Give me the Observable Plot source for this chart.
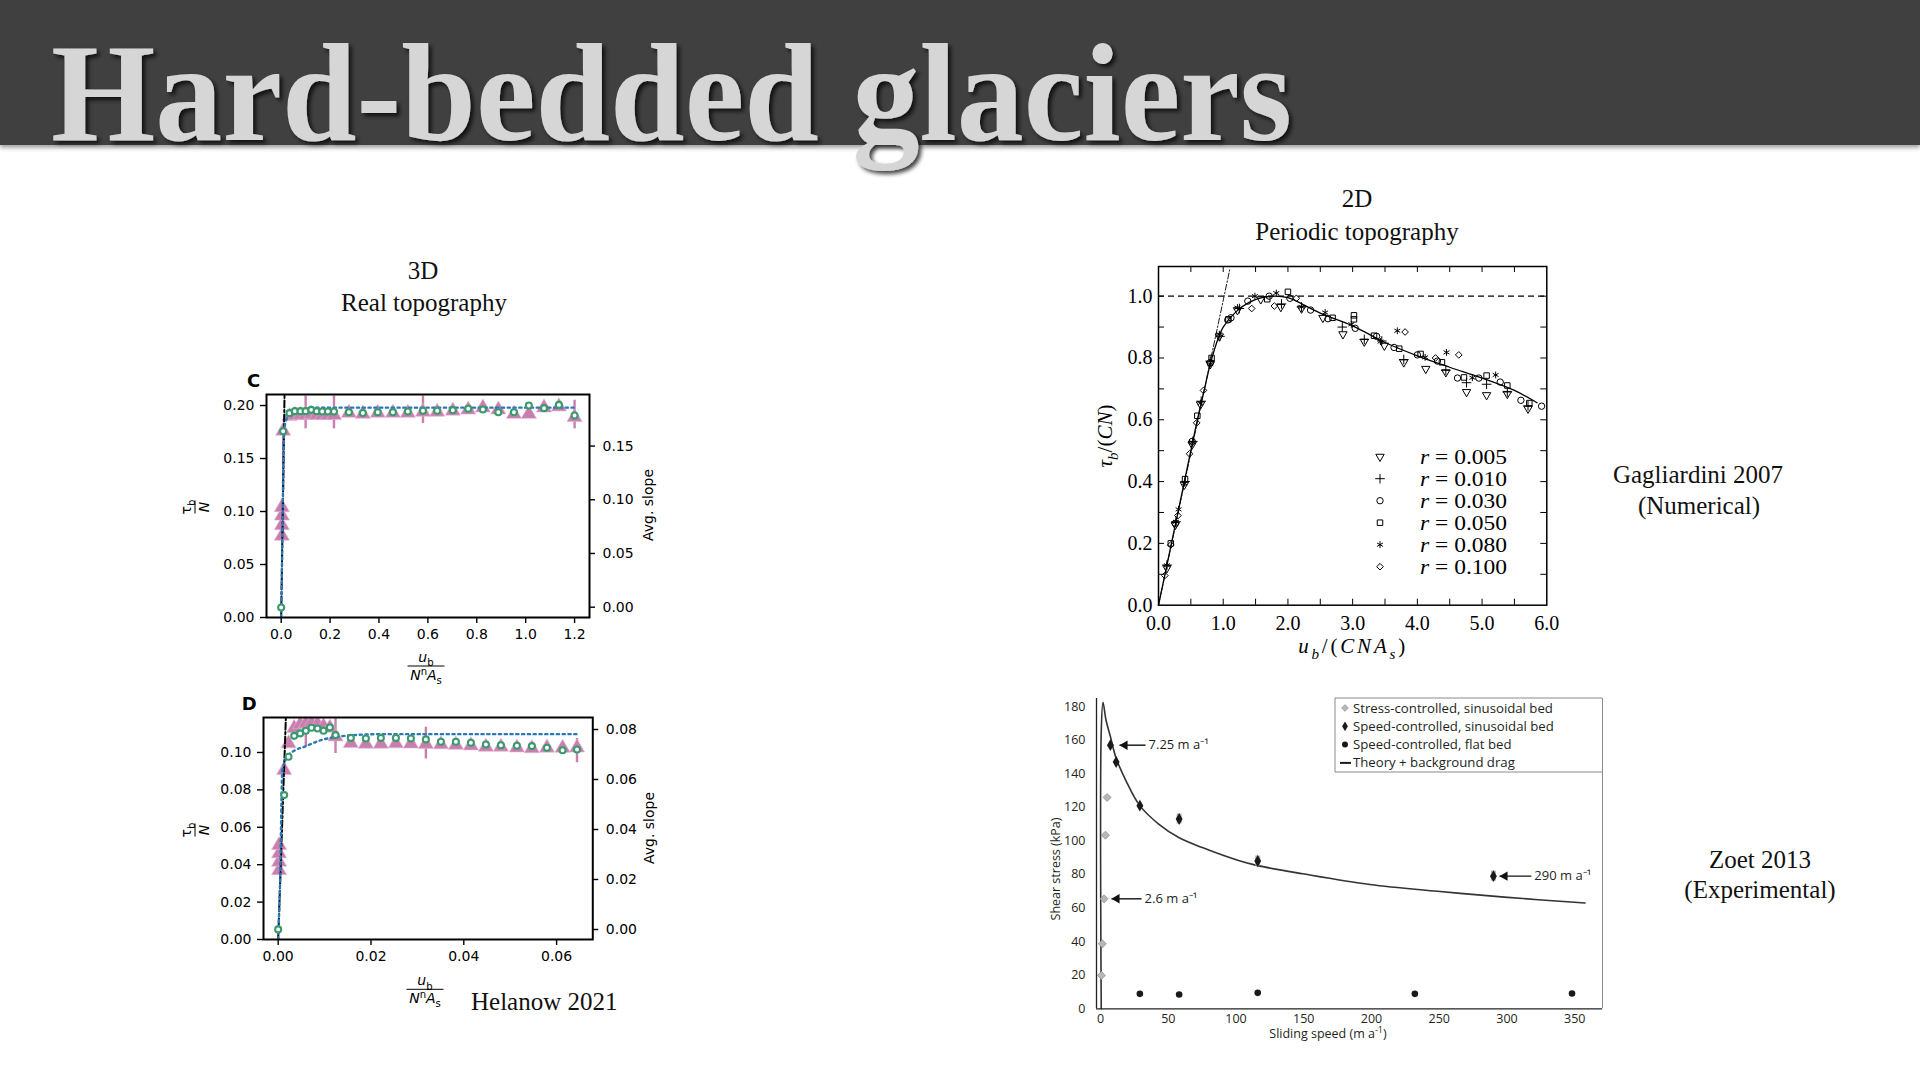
<!DOCTYPE html>
<html><head><meta charset="utf-8">
<script src="https://cdn.jsdelivr.net/npm/d3@7"></script>
<script src="https://cdn.jsdelivr.net/npm/@observablehq/plot@0.6"></script>
<style>
html,body{margin:0;padding:0;background:#fff;}
#slide{position:relative;width:1920px;height:1080px;overflow:hidden;background:#fff;}
#bar{position:absolute;left:0;top:0;width:1920px;height:145px;background:#404040;box-shadow:0 3px 4px rgba(0,0,0,0.35);}
.pw{position:absolute;}
.pw svg{max-width:none;background:transparent;}
</style>
</head><body>
<div id="slide"><div id="bar"></div></div>
<script>
// ================= DATA =================
// --- Helanow 2021, panel C ---
const cCircleX = [0.000,0.008,0.034,0.056,0.079,0.100,0.123,0.145,0.168,0.191,0.216,0.277,0.334,0.395,0.457,0.518,0.580,0.638,0.702,0.765,0.825,0.888,0.952,1.013,1.075,1.136,1.200];
const cCircleY = [0.0094,0.1757,0.1928,0.1947,0.1947,0.1947,0.1959,0.1947,0.1943,0.1943,0.1943,0.1937,0.1930,0.1937,0.1937,0.1943,0.1950,0.1950,0.1956,0.1969,0.1962,0.1937,0.1937,0.2000,0.1975,0.2006,0.1906];
const cTriX = [0.003,0.003,0.003,0.003,0.008,0.034,0.056,0.079,0.100,0.123,0.145,0.168,0.191,0.216,0.277,0.334,0.395,0.457,0.518,0.580,0.638,0.702,0.765,0.825,0.888,0.952,1.013,1.075,1.136,1.200];
const cTriY = [0.077,0.087,0.096,0.104,0.176,0.190,0.191,0.191,0.191,0.192,0.191,0.191,0.191,0.191,0.193,0.192,0.193,0.193,0.193,0.194,0.194,0.195,0.196,0.198,0.196,0.192,0.192,0.198,0.199,0.189];
const cErrX = [0.008,0.100,0.216,0.580,1.200];
const cErrLo = [0.120,0.178,0.178,0.183,0.178];
const cErrHi = [0.176,0.209,0.209,0.209,0.205];
const cSlopeX = [0,0.004,0.008,0.012,0.020,0.040,0.080,0.150,1.200];
const cSlopeY = [0,0.060,0.130,0.175,0.186,0.192,0.196,0.198,0.198];
const cLinX = [0,0.0137];
const cLinY = [0,0.2100];
const cXTicks = [0,0.2,0.4,0.6,0.8,1.0,1.2];
const cYTicks = [0,0.05,0.10,0.15,0.20];
const cRTicks = [0,0.05,0.10,0.15];

// --- Helanow 2021, panel D ---
const dCircleX = [0,0.00129,0.00223,0.00345,0.00474,0.00596,0.00719,0.00848,0.00977,0.01114,0.01236,0.01566,0.0189,0.02213,0.02537,0.0286,0.03183,0.03507,0.0383,0.04153,0.04477,0.048,0.05145,0.05468,0.05792,0.06129,0.0644];
const dCircleY = [0.0054,0.0772,0.0977,0.1089,0.1102,0.1116,0.1132,0.1128,0.1116,0.1134,0.1093,0.1078,0.1075,0.1078,0.1078,0.1075,0.1070,0.1057,0.1057,0.1052,0.1043,0.1039,0.1036,0.1034,0.1025,0.1012,0.1016];
const dTriX = [0.0002,0.0002,0.0002,0.0002,0.00129,0.00223,0.00345,0.00474,0.00596,0.00719,0.00848,0.00977,0.01114,0.01236,0.01566,0.0189,0.02213,0.02537,0.0286,0.03183,0.03507,0.0383,0.04153,0.04477,0.048,0.05145,0.05468,0.05792,0.06129,0.0644];
const dTriY = [0.0370,0.0415,0.0460,0.0504,0.0906,0.1048,0.1130,0.1150,0.1155,0.1158,0.1152,0.1140,0.1132,0.1085,0.1050,0.1046,0.1046,0.1048,0.1047,0.1045,0.1043,0.1040,0.1037,0.1030,0.1030,0.1026,0.1022,0.1025,0.1024,0.1026];
const dErrX = [0.00596,0.01236,0.03183,0.0644];
const dErrLo = [0.1030,0.0995,0.0965,0.0945];
const dErrHi = [0.1165,0.1185,0.1135,0.1075];
const dSlopeX = [0,0.0004,0.0009,0.0020,0.0035,0.0056,0.0092,0.0128,0.0164,0.0220,0.0644];
const dSlopeY = [0,0.030,0.0906,0.0977,0.1010,0.1030,0.1066,0.1084,0.1093,0.1098,0.1098];
const dLinX = [0,0.00165];
const dLinY = [0,0.1180];
const dXTicks = [0,0.02,0.04,0.06];
const dYTicks = [0,0.02,0.04,0.06,0.08,0.10];
const dRTicks = [0,0.02,0.04,0.06,0.08];

// --- Gagliardini 2007 ---
const gR005 = [[0.13,0.12],[0.26,0.26],[0.40,0.39],[0.52,0.52],[0.65,0.65],[0.80,0.78],[0.94,0.87],[1.22,0.955],[1.58,0.99],[1.89,0.965],[2.21,0.96],[2.54,0.93],[2.85,0.877],[3.18,0.853],[3.49,0.84],[3.79,0.786],[4.13,0.765],[4.44,0.754],[4.76,0.69],[5.07,0.68],[5.39,0.684],[5.71,0.636]];
const gR010 = [[0.13,0.13],[0.27,0.27],[0.41,0.40],[0.53,0.53],[0.66,0.66],[0.80,0.79],[0.95,0.87],[1.25,0.96],[1.90,0.975],[2.21,0.965],[2.84,0.90],[3.18,0.86],[3.45,0.855],[3.79,0.795],[4.44,0.76],[4.76,0.72],[5.07,0.715],[5.39,0.69],[5.71,0.645]];
const gR030 = [[0.26,0.265],[0.52,0.53],[0.80,0.785],[1.07,0.923],[1.12,0.93],[1.38,0.984],[1.71,1.0],[2.03,0.993],[2.35,0.955],[2.62,0.927],[3.04,0.896],[3.37,0.87],[3.64,0.834],[4.00,0.81],[4.31,0.79],[4.62,0.735],[4.95,0.735],[5.28,0.722],[5.60,0.663],[5.92,0.644]];
const gR050 = [[0.19,0.20],[0.41,0.408],[0.60,0.613],[0.82,0.80],[1.08,0.925],[1.68,0.99],[2.00,1.014],[2.69,0.93],[3.02,0.938],[3.02,0.925],[3.33,0.872],[3.72,0.83],[4.05,0.813],[4.38,0.786],[4.72,0.737],[5.07,0.743],[5.39,0.711],[5.73,0.654]];
const gR080 = [[0.13,0.129],[0.27,0.27],[0.31,0.31],[0.40,0.395],[0.525,0.527],[0.65,0.654],[0.80,0.78],[0.94,0.877],[1.22,0.963],[1.49,1.0],[1.82,1.01],[2.21,0.965],[2.575,0.947],[2.98,0.909],[3.43,0.853],[3.69,0.888],[4.12,0.802],[4.45,0.818],[4.85,0.736],[5.21,0.745]];
const gR100 = [[0.098,0.096],[0.19,0.195],[0.30,0.29],[0.48,0.49],[0.59,0.59],[0.695,0.695],[1.44,0.96],[1.79,0.968],[2.13,0.993],[3.81,0.884],[4.28,0.80],[4.64,0.81]];
const gLegendLabels = ["0.005","0.010","0.030","0.050","0.080","0.100"];
const gCurveX = [0,0.2,0.4,0.6,0.7,0.8,0.9,1.0,1.2,1.4,1.6,1.8,2.0,2.5,3.0,3.5,4.0,4.5,5.0,5.5,5.85];
const gCurveY = [0,0.2,0.4,0.6,0.69,0.78,0.85,0.9,0.95,0.98,0.995,1.0,0.995,0.945,0.904,0.85,0.807,0.77,0.735,0.695,0.655];
const gLinX = [0,1.1];
const gLinY = [0,1.085];
const gXTicks = [0,1,2,3,4,5,6];
const gXMinor = [0.5,1,1.5,2,2.5,3,3.5,4,4.5,5,5.5];
const gYTicks = [0,0.2,0.4,0.6,0.8,1.0];
const gYMinor = [0.1,0.2,0.3,0.4,0.5,0.6,0.7,0.8,0.9,1.0];

// --- Zoet 2013 ---
const zStressX = [0.6,1.3,2.6,3.6,4.8];
const zStressY = [19.9,38.7,65.5,103.4,125.9];
const zSpeedX = [7.25,11.5,29,58,116,290];
const zSpeedY = [157,147,121,113,88,79];
const zSpeedErr = [0,0,1.5,3,3,3];
const zFlatX = [29,58,116,232,348];
const zFlatY = [8.9,8.5,9.5,8.9,9.1];
const zTheoryX = [0.5,0.5,1.8,4.0,7.3,11.3,18.8,28.7,42.9,57.7,75.1,101.8,115.2,149.2,198.8,248.6,298.1,357.6];
const zTheoryY = [0,165,182.6,172,162,149.7,135.8,121.3,110,102,96,88.3,85.4,80.4,74,70,66.5,63];
const zAnnotLabel = ["7.25 m a\u207B\u00B9","2.6 m a\u207B\u00B9","290 m a\u207B\u00B9"];
const zAnnotY = [157,65.5,79];
const zAnnotHead = [14,8.1,294.5];
const zAnnotTail = [33.2,30.3,318];
const zXTicks = [0,50,100,150,200,250,300,350];
const zYTicks = [0,20,40,60,80,100,120,140,160,180];
const zLegend = ["Stress-controlled, sinusoidal bed","Speed-controlled, sinusoidal bed","Speed-controlled, flat bed","Theory + background drag"];

// ================= HELPERS =================
const slide = document.getElementById("slide");
function place(svg, left, top) {
  const d = document.createElement("div");
  d.className = "pw";
  d.style.left = left + "px"; d.style.top = top + "px";
  d.appendChild(svg);
  slide.appendChild(d);
}
const zip = (xs, ys) => xs.map((x, i) => ({x, y: ys[i]}));
const PINK = "#c97fae", GREEN = "#3a9a6e", BLUE = "#2a78b8";

function helanow(o) {
  const mL = 60, mR = 60, mT = 10, mB = 30;
  const W = o.fw + mL + mR, H = o.fh + mT + mB;
  const toLeft = v => (v - o.rDom[0]) / (o.rDom[1] - o.rDom[0]) * (o.yDom[1] - o.yDom[0]) + o.yDom[0];
  const errs = o.errX.map((x, i) => ({x, lo: o.errLo[i], hi: o.errHi[i]}));
  const svg = Plot.plot({
    width: W, height: H, marginLeft: mL, marginRight: mR, marginTop: mT, marginBottom: mB,
    x: {domain: o.xDom, label: null}, y: {domain: o.yDom, label: null},
    style: {fontFamily: "DejaVu Sans", fontSize: "14px", color: "black", background: "transparent", overflow: "visible"},
    marks: [
      Plot.ruleX(errs, {x: "x", y1: "lo", y2: "hi", stroke: PINK, strokeWidth: 2.4, clip: true}),
      Plot.dot(zip(o.triX, o.triY), {x: "x", y: "y", symbol: "triangle", r: 5.6, fill: PINK, stroke: "#e3b6d3", strokeWidth: 0.6, clip: true}),
      Plot.line(zip(o.linX, o.linY), {x: "x", y: "y", stroke: "black", strokeWidth: 2, strokeDasharray: "7,2.5,2,2.5", clip: true}),
      Plot.line(zip(o.slX, o.slY), {x: "x", y: "y", stroke: BLUE, strokeWidth: 2.4, strokeDasharray: "2.2,3.6", curve: "monotone-x", clip: true}),
      Plot.dot(zip(o.cX, o.cY), {x: "x", y: "y", r: 3, stroke: GREEN, strokeWidth: 2.1, fill: "white"}),
      Plot.axisX({ticks: o.xTicks, label: null, tickSize: 6, tickPadding: 6, strokeWidth: 1.4, tickFormat: o.xFmt}),
      Plot.axisY({anchor: "left", label: null, ticks: o.yTicks, tickSize: 6, tickPadding: 6, strokeWidth: 1.4, tickFormat: d3.format(".2f")}),
      Plot.tickY(o.rTicks, {y: toLeft, insetLeft: o.fw, insetRight: -6, stroke: "black", strokeWidth: 1.4}),
      Plot.text(o.rTicks, {y: toLeft, text: d => d3.format(".2f")(d), frameAnchor: "right", textAnchor: "start", dx: 13, fill: "black"}),
      Plot.frame({stroke: "black", strokeWidth: 2})
    ]
  });
  place(svg, o.left - mL, o.top - mT);
}

helanow({left: 266, top: 394, fw: 323, fh: 223, xDom: [-0.06, 1.261], yDom: [0, 0.2104], rDom: [-0.0096, 0.198],
  cX: cCircleX, cY: cCircleY, triX: cTriX, triY: cTriY, errX: cErrX, errLo: cErrLo, errHi: cErrHi,
  slX: cSlopeX, slY: cSlopeY, linX: cLinX, linY: cLinY, xTicks: cXTicks, yTicks: cYTicks, rTicks: cRTicks, xFmt: d3.format(".1f")});
helanow({left: 262.7, top: 717.3, fw: 329.3, fh: 222, xDom: [-0.00316, 0.0678], yDom: [0, 0.1187], rDom: [-0.004, 0.0848],
  cX: dCircleX, cY: dCircleY, triX: dTriX, triY: dTriY, errX: dErrX, errLo: dErrLo, errHi: dErrHi,
  slX: dSlopeX, slY: dSlopeY, linX: dLinX, linY: dLinY, xTicks: dXTicks, yTicks: dYTicks, rTicks: dRTicks, xFmt: d3.format(".2f")});

// ---- Gagliardini ----
const triDown = {draw(ctx, size) {
  const y = Math.sqrt(size / (Math.sqrt(3) * 3));
  ctx.moveTo(0, 2 * y); ctx.lineTo(-Math.sqrt(3) * y, -y); ctx.lineTo(Math.sqrt(3) * y, -y); ctx.closePath();
}};
const gSymbols = [triDown, "plus", "circle", "square", "asterisk", "diamond2"];
const gSizes = [3.1, 3.2, 3.2, 3.1, 3.2, 3.0];
const gSeries = [gR005, gR010, gR030, gR050, gR080, gR100];
(function () {
  const mL = 55, mR = 10, mT = 10, mB = 30, fw = 388.3, fh = 338.7;
  const pts = p => p.map(([x, y]) => ({x, y}));
  const marks = [
    Plot.ruleY([1], {stroke: "black", strokeWidth: 1.1, strokeDasharray: "6,4"}),
    Plot.line(zip(gLinX, gLinY), {x: "x", y: "y", stroke: "black", strokeWidth: 0.9, strokeDasharray: "6,2,1.5,2", clip: true}),
    Plot.line(zip(gCurveX, gCurveY), {x: "x", y: "y", stroke: "black", strokeWidth: 1.3, curve: "catmull-rom"})
  ];
  gSeries.forEach((s, i) => marks.push(Plot.dot(pts(s), {x: "x", y: "y", symbol: gSymbols[i], r: gSizes[i], stroke: "black", strokeWidth: 1, fill: "none"})));
  marks.push(
    Plot.tickX(gXMinor, {x: d => d, insetTop: fh - 6, stroke: "black"}),
    Plot.tickX(gXMinor, {x: d => d, insetBottom: fh - 6, stroke: "black"}),
    Plot.tickY(gYMinor, {y: d => d, insetRight: fw - 6, stroke: "black"}),
    Plot.tickY(gYMinor, {y: d => d, insetLeft: fw - 6, stroke: "black"}),
    Plot.axisX({ticks: gXTicks, label: null, tickSize: 0, tickPadding: 11, tickFormat: d3.format(".1f")}),
    Plot.axisY({ticks: gYTicks, label: null, tickSize: 0, tickPadding: 6, tickFormat: d3.format(".1f")}),
    Plot.frame({stroke: "black", strokeWidth: 1.5})
  );
  const svg = Plot.plot({
    width: fw + mL + mR, height: fh + mT + mB, marginLeft: mL, marginRight: mR, marginTop: mT, marginBottom: mB,
    x: {domain: [0, 6], label: null}, y: {domain: [0, 1.096], label: null},
    style: {fontFamily: "Liberation Serif", fontSize: "20px", color: "black", background: "transparent", overflow: "visible"},
    marks
  });
  place(svg, 1157.7 - mL, 266 - mT);
})();

// ---- Zoet ----
(function () {
  const mL = 45, mR = 5, mT = 5, mB = 35, fw = 506, fh = 310.3;
  const xDom = [-3, 370.5];
  const ann = zAnnotLabel.map((label, i) => ({label, y: zAnnotY[i], head: zAnnotHead[i], tail: zAnnotTail[i]}));
  const err = zSpeedX.map((x, i) => ({x, lo: zSpeedY[i] - zSpeedErr[i], hi: zSpeedY[i] + zSpeedErr[i]})).filter(d => d.hi > d.lo);
  const svg = Plot.plot({
    width: fw + mL + mR, height: fh + mT + mB, marginLeft: mL, marginRight: mR, marginTop: mT, marginBottom: mB,
    x: {domain: xDom, label: null}, y: {domain: [0, 184.8], label: null},
    style: {fontFamily: "Open Sans", fontSize: "12.5px", color: "#231f20", background: "transparent", overflow: "visible"},
    marks: [
      Plot.ruleX([xDom[1]], {stroke: "#8a8a8a", strokeWidth: 1}),
      Plot.line(zip(zTheoryX, zTheoryY), {x: "x", y: "y", stroke: "#333", strokeWidth: 1.6, curve: "catmull-rom"}),
      Plot.ruleX(err, {x: "x", y1: "lo", y2: "hi", stroke: "#b5b5b5", strokeWidth: 5}),
      Plot.dot(zip(zStressX, zStressY), {x: "x", y: "y", symbol: "diamond2", r: 3.6, fill: "#b8b8b8", stroke: "#8f8f8f", strokeWidth: 0.8}),
      Plot.dot(zip(zSpeedX, zSpeedY), {x: "x", y: "y", symbol: "diamond", r: 3.6, fill: "#1a1a1a"}),
      Plot.dot(zip(zFlatX, zFlatY), {x: "x", y: "y", r: 3.3, fill: "#1a1a1a"}),
      Plot.link(ann, {x1: "head", x2: "tail", y1: "y", y2: "y", stroke: "#111", strokeWidth: 1.4}),
      Plot.dot(ann, {x: "head", y: "y", symbol: "triangle", rotate: -90, r: 3.5, dx: 5.3, fill: "#111"}),
      Plot.text(ann, {x: "tail", y: "y", text: "label", textAnchor: "start", dx: 3, fontSize: 13, fill: "#231f20"}),
      Plot.ruleY([0], {stroke: "#222", strokeWidth: 1.3}),
      Plot.ruleX([xDom[0]], {stroke: "#222", strokeWidth: 1.3}),
      Plot.axisX({ticks: zXTicks, label: null, tickSize: 0, tickPadding: 5}),
      Plot.axisY({ticks: zYTicks, label: null, tickSize: 0, tickPadding: 11})
    ]
  });
  place(svg, 1096 - mL, 698 - mT);
})();

// ================= OVERLAY TEXT =================
const ov = d3.select("#slide").append("svg")
  .attr("width", 1920).attr("height", 1080)
  .style("position", "absolute").style("left", "0px").style("top", "0px").style("pointer-events", "none");
const defs = ov.append("defs");
const flt = defs.append("filter").attr("id", "sh").attr("x", "-5%").attr("y", "-10%").attr("width", "110%").attr("height", "130%");
flt.append("feDropShadow").attr("dx", 3).attr("dy", 3).attr("stdDeviation", 2).attr("flood-color", "#000").attr("flood-opacity", 0.75);

ov.append("text").attr("x", 51).attr("y", 140)
  .attr("font-family", "Liberation Serif").attr("font-weight", "bold").attr("font-size", 140)
  .attr("fill", "#d6d6d6").attr("textLength", 1241).attr("lengthAdjust", "spacingAndGlyphs")
  .attr("filter", "url(#sh)").text("Hard-bedded glaciers");

function label(x, y, str, o = {}) {
  return ov.append("text").attr("x", x).attr("y", y)
    .attr("font-family", o.family || "Liberation Serif").attr("font-size", o.size || 25)
    .attr("font-weight", o.weight || "normal").attr("fill", o.fill || "#111")
    .attr("text-anchor", o.anchor || "middle").text(str);
}
label(423, 279, "3D");
label(424, 311, "Real topography");
label(1357, 207, "2D");
label(1357, 240, "Periodic topography");
label(1698, 483, "Gagliardini 2007");
label(1699, 514, "(Numerical)");
label(1760, 868, "Zoet 2013");
label(1760, 898, "(Experimental)");
label(471, 1010, "Helanow 2021", {anchor: "start"});
label(253.7, 386.5, "C", {family: "DejaVu Sans", weight: "bold", size: 18, fill: "#000"});
label(249.3, 710, "D", {family: "DejaVu Sans", weight: "bold", size: 18, fill: "#000"});

function rich(t, parts, size) {
  let shift = 0;
  parts.forEach(([s, st]) => {
    const f = (st || "").split(" ");
    let target = 0, fs = size;
    if (f.includes("sub")) { target = size * 0.3; fs = size * 0.72; }
    if (f.includes("sup")) { target = -size * 0.38; fs = size * 0.72; }
    const ts = t.append("tspan").text(s).attr("font-size", fs);
    if (target - shift !== 0) ts.attr("dy", target - shift);
    if (f.includes("i")) ts.attr("font-style", "italic");
    shift = target;
  });
}
function frac(cx, cy, num, den, barW, rotate, size = 14) {
  const g = ov.append("g").attr("transform", `translate(${cx},${cy})` + (rotate ? " rotate(-90)" : ""))
    .attr("font-family", "DejaVu Sans").attr("fill", "#000");
  rich(g.append("text").attr("text-anchor", "middle").attr("y", -4), num, size);
  g.append("line").attr("x1", -barW / 2).attr("x2", barW / 2).attr("stroke", "#000").attr("stroke-width", 1);
  rich(g.append("text").attr("text-anchor", "middle").attr("y", 14), den, size);
}
const numU = [["u", "i"], ["b", "sub"]];
const denN = [["N", "i"], ["n", "sup"], ["A", "i"], ["s", "sub"]];
const numTau = [["\u03C4", ""], ["b", "sub"]];
const denNn = [["N", "i"]];
frac(426, 666, numU, denN, 37, false);
frac(425, 989.3, numU, denN, 37, false);
frac(195, 507, numTau, denNn, 13, true);
frac(195, 830, numTau, denNn, 13, true);
ov.append("text").attr("transform", "translate(653,505) rotate(-90)").attr("text-anchor", "middle")
  .attr("font-family", "DejaVu Sans").attr("font-size", 14).attr("fill", "#000").text("Avg. slope");
ov.append("text").attr("transform", "translate(654,828) rotate(-90)").attr("text-anchor", "middle")
  .attr("font-family", "DejaVu Sans").attr("font-size", 14).attr("fill", "#000").text("Avg. slope");

// Gagliardini axis labels
const gxl = ov.append("text").attr("x", 1351.7).attr("y", 653).attr("text-anchor", "middle")
  .attr("font-family", "Liberation Serif").attr("font-size", 21).attr("fill", "#000")
  .attr("textLength", 107).attr("lengthAdjust", "spacing");
rich(gxl, [["u", "i"], ["b", "i sub"], ["/(", ""], ["CNA", "i"], ["s", "i sub"], [")", ""]], 21);
const gyl = ov.append("text").attr("transform", "translate(1112,436) rotate(-90)").attr("text-anchor", "middle")
  .attr("font-family", "Liberation Serif").attr("font-size", 21).attr("fill", "#000");
rich(gyl, [["\u03C4", "i"], ["b", "i sub"], ["/(", ""], ["CN", "i"], [")", ""]], 21);

// Gagliardini legend
gLegendLabels.forEach((lab, i) => {
  const y = 456.7 + i * 22;
  const sym = gSymbols[i];
  const type = typeof sym === "string" ? {plus: d3.symbolPlus, circle: d3.symbolCircle, square: d3.symbolSquare, asterisk: d3.symbolAsterisk, diamond2: d3.symbolDiamond2}[sym] : sym;
  ov.append("path").attr("transform", `translate(1380,${y})`).attr("d", d3.symbol(type, Math.PI * gSizes[i] * gSizes[i])())
    .attr("fill", "none").attr("stroke", "#000").attr("stroke-width", 1);
  const t = ov.append("text").attr("x", 1420).attr("y", y + 7).attr("font-family", "Liberation Serif").attr("font-size", 21).attr("fill", "#000")
    .attr("textLength", 87).attr("lengthAdjust", "spacingAndGlyphs");
  rich(t, [["r", "i"], [" = " + lab, ""]], 21);
});

// Zoet axis titles & legend
const zt = ov.append("text").attr("x", 1328).attr("y", 1038).attr("text-anchor", "middle")
  .attr("font-family", "Open Sans").attr("font-size", 12.5).attr("fill", "#231f20");
rich(zt, [["Sliding speed (m a", ""], ["-1", "sup"], [")", ""]], 12.5);
ov.append("text").attr("transform", "translate(1060,869) rotate(-90)").attr("text-anchor", "middle")
  .attr("font-family", "Open Sans").attr("font-size", 12.5).attr("fill", "#231f20").text("Shear stress (kPa)");
ov.append("path").attr("d", "M1602,698 H1335 V772 H1602").attr("fill", "none").attr("stroke", "#8a8a8a").attr("stroke-width", 1);
const zSym = [[d3.symbolDiamond2, "#b8b8b8", "#8f8f8f"], [d3.symbolDiamond, "#1a1a1a", "none"], [d3.symbolCircle, "#1a1a1a", "none"]];
zLegend.forEach((lab, i) => {
  const y = 708 + i * 18.3;
  if (i < 3) {
    ov.append("path").attr("transform", `translate(1345,${y})`).attr("d", d3.symbol(zSym[i][0], 28)())
      .attr("fill", zSym[i][1]).attr("stroke", zSym[i][2]).attr("stroke-width", 0.8);
  } else {
    ov.append("line").attr("x1", 1340).attr("x2", 1351).attr("y1", y).attr("y2", y).attr("stroke", "#1a1a1a").attr("stroke-width", 2);
  }
  ov.append("text").attr("x", 1353).attr("y", y + 4.5).attr("font-family", "Open Sans").attr("font-size", 13.2)
    .attr("fill", "#231f20").text(lab);
});
</script>
</body></html>
